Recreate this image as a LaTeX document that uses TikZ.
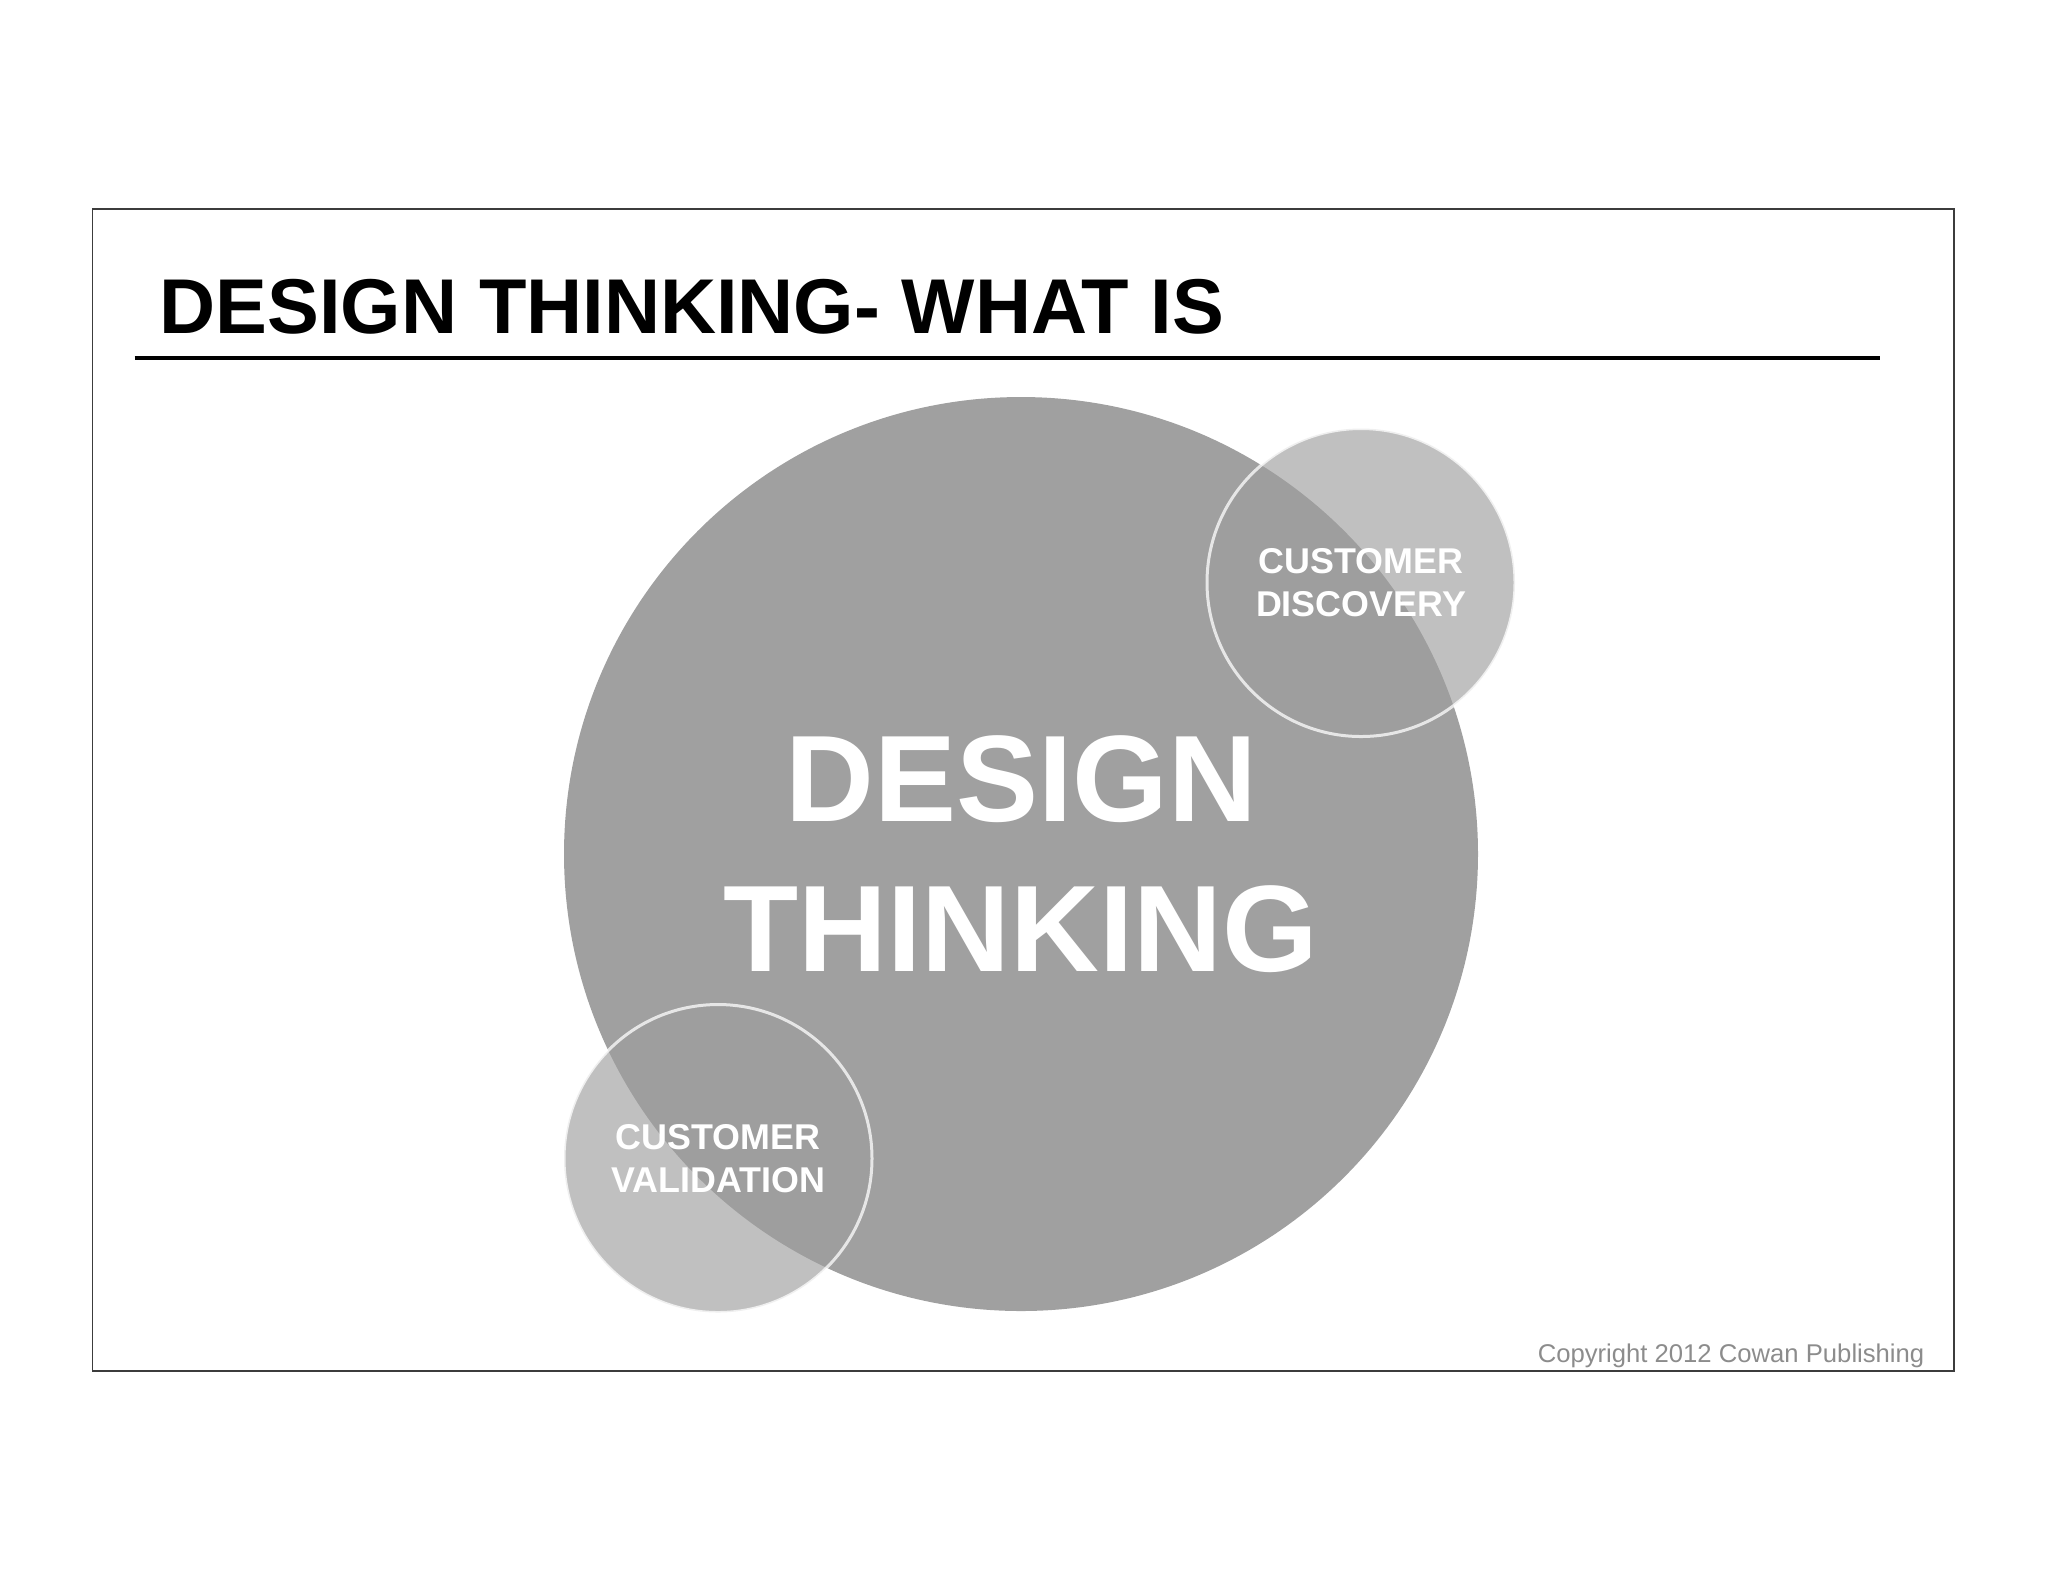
\documentclass[tikz,border=0pt]{standalone}
\usepackage{fontspec}
\setmainfont{Liberation Sans}
\usetikzlibrary{positioning}
\definecolor{biggray}{RGB}{160,160,160}
\definecolor{smallgray}{RGB}{157,157,157}
\definecolor{notegray}{RGB}{140,140,140}
\definecolor{framegray}{RGB}{60,60,60}
\tikzset{
    bigcircle/.style = {circle, inner sep=0pt, fill=biggray, text=white, align=center,
        font=\bfseries\fontsize{35}{42.7}\selectfont},
    smallcircle/.style = {circle, inner sep=0pt, minimum size=30.8mm, fill=smallgray, fill opacity=0.64,
        draw=white, draw opacity=0.75, line width=0.3mm, text opacity=1, text=white, align=center,
        font=\bfseries\fontsize{10.2}{12.4}\selectfont},
    titlenode/.style = {inner sep=0pt, font=\bfseries\fontsize{22.1}{26}\selectfont, text=black},
    notenode/.style = {inner sep=0pt, font=\fontsize{7.3}{8}\selectfont, text=notegray},
    framen/.style = {draw=framegray, line width=0.4pt},
    rulen/.style = {-, line width=1.1pt, black}
}
\begin{document}
\begin{tikzpicture}[x=0.1mm, y=-0.1mm]
  \useasboundingbox (0,0) rectangle (2048,1582);
  \draw[framen] (92.7,209) rectangle (1954,1371);
  \node[titlenode, anchor=base west] (title) at (159,333) {DESIGN THINKING- WHAT IS};
  \coordinate (rulel) at (134.5,358);
  \coordinate (ruler) at (1879.5,358);
  \draw[rulen] (rulel) -- (ruler);
  % circles
  \node[bigcircle, minimum size=91.4mm] (dt) at (1021,854) {DESIGN\\THINKING};
  \node[smallcircle] (cd) at (1361,582.5) {CUSTOMER\\DISCOVERY};
  \node[smallcircle] (cv) at (718,1158.5) {CUSTOMER\\VALIDATION};
  \node[notenode, anchor=base east] (copy) at (1925,1362) {Copyright 2012 Cowan Publishing};
\end{tikzpicture}
\end{document}
